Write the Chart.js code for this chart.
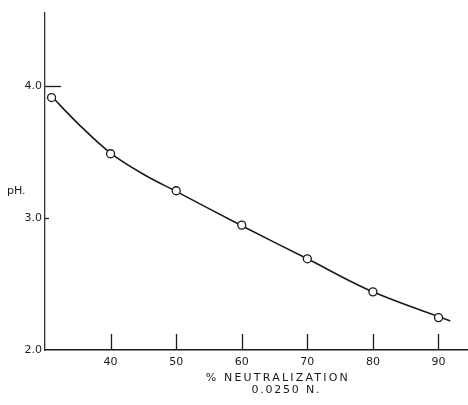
<!DOCTYPE html>
<html>
<head>
<meta charset="utf-8">
<script src="https://cdn.jsdelivr.net/npm/chart.js@4/dist/chart.umd.min.js"></script>
<style>
  html, body { margin: 0; padding: 0; background: #fff; }
  #wrap { width: 468px; height: 405px; position: relative; }
</style>
</head>
<body>
<div id="wrap"><canvas id="chart"></canvas></div>
<script>
// measured points (% neutralization vs pH)
const pctNeutralized = [31, 40, 50, 60, 70, 80, 90];
const phValues = [3.91, 3.485, 3.205, 2.945, 2.69, 2.44, 2.245];

// smooth curve drawn through the data
const curvePct = [31, 35, 40, 45, 50, 60, 70, 80, 91.8];
const curvePh = [3.92, 3.715, 3.49, 3.33, 3.2, 2.94, 2.69, 2.44, 2.22];

const xTicks = [40, 50, 60, 70, 80, 90];
const yTicks = [2, 3, 4];
const yTickLabels = ["2.0", "3.0", "4.0"];

const xTitle = "% NEUTRALIZATION";
const xSubTitle = "0.0250 N.";
const yTitle = "pH.";

const ink = "#1a1a1a";

// inward tick marks + hand-lettered style axis titles
const annotate = {
  id: "annotate",
  afterDraw(chart) {
    const { ctx, chartArea } = chart;
    const xs = chart.scales.x;
    const ys = chart.scales.y;
    ctx.save();
    ctx.strokeStyle = ink;
    ctx.lineWidth = 1.3;
    xTicks.forEach(v => {
      const px = Math.round(xs.getPixelForValue(v)) + 0.5;
      ctx.beginPath();
      ctx.moveTo(px, chartArea.bottom);
      ctx.lineTo(px, chartArea.bottom - 16);
      ctx.stroke();
    });
    // y ticks: the 4.0 mark is a longer dash
    [[3, 4], [4, 16]].forEach(([v, len]) => {
      const py = Math.round(ys.getPixelForValue(v)) + 0.5;
      ctx.beginPath();
      ctx.moveTo(chartArea.left, py);
      ctx.lineTo(chartArea.left + len, py);
      ctx.stroke();
    });

    ctx.fillStyle = ink;
    ctx.font = "11px 'DejaVu Sans'";
    ctx.textBaseline = "middle";
    ctx.textAlign = "center";
    ctx.letterSpacing = "2.2px";
    ctx.fillText(xTitle, xs.getPixelForValue(65.5), chartArea.bottom + 28);
    ctx.letterSpacing = "1.8px";
    ctx.fillText(xSubTitle, xs.getPixelForValue(66.8), chartArea.bottom + 40);
    ctx.letterSpacing = "0px";
    ctx.textAlign = "left";
    ctx.fillText(yTitle, 7, ys.getPixelForValue(3.2));
    ctx.restore();
  }
};

const ctx = document.getElementById("chart").getContext("2d");
new Chart(ctx, {
  type: "scatter",
  data: {
    datasets: [
      {
        label: "curve",
        type: "line",
        data: curvePct.map((x, i) => ({ x, y: curvePh[i] })),
        borderColor: ink,
        borderWidth: 1.6,
        pointRadius: 0,
        fill: false,
        tension: 0.35,
        order: 2
      },
      {
        label: "pH",
        data: pctNeutralized.map((x, i) => ({ x, y: phValues[i] })),
        pointRadius: 4,
        pointBackgroundColor: "#fff",
        pointBorderColor: ink,
        pointBorderWidth: 1.3,
        order: 1
      }
    ]
  },
  options: {
    responsive: true,
    maintainAspectRatio: false,
    animation: false,
    layout: { autoPadding: false, padding: { top: 13, right: 0, left: 0, bottom: 0 } },
    plugins: {
      legend: { display: false },
      tooltip: { enabled: false }
    },
    scales: {
      x: {
        type: "linear",
        min: 30,
        max: 94.5,
        afterBuildTicks: s => { s.ticks = xTicks.map(v => ({ value: v })); },
        afterFit: s => { s.height = 55; s.paddingRight = 0; s.paddingLeft = 0; },
        grid: { display: false, drawTicks: false },
        border: { display: true, color: ink, width: 1.6 },
        ticks: {
          color: ink,
          padding: 6,
          font: { family: "DejaVu Sans", size: 11 },
          maxRotation: 0,
          callback: v => String(v)
        }
      },
      y: {
        type: "linear",
        min: 2,
        max: 4.55,
        afterBuildTicks: s => { s.ticks = yTicks.map(v => ({ value: v })); },
        afterFit: s => { s.width = 45; s.paddingTop = 0; s.paddingBottom = 0; },
        grid: { display: false, drawTicks: false },
        border: { display: true, color: "#333", width: 1.3 },
        ticks: {
          color: ink,
          padding: 3,
          font: { family: "DejaVu Sans", size: 11 },
          callback: v => yTickLabels[yTicks.indexOf(v)]
        }
      }
    }
  },
  plugins: [annotate]
});
</script>
</body>
</html>
